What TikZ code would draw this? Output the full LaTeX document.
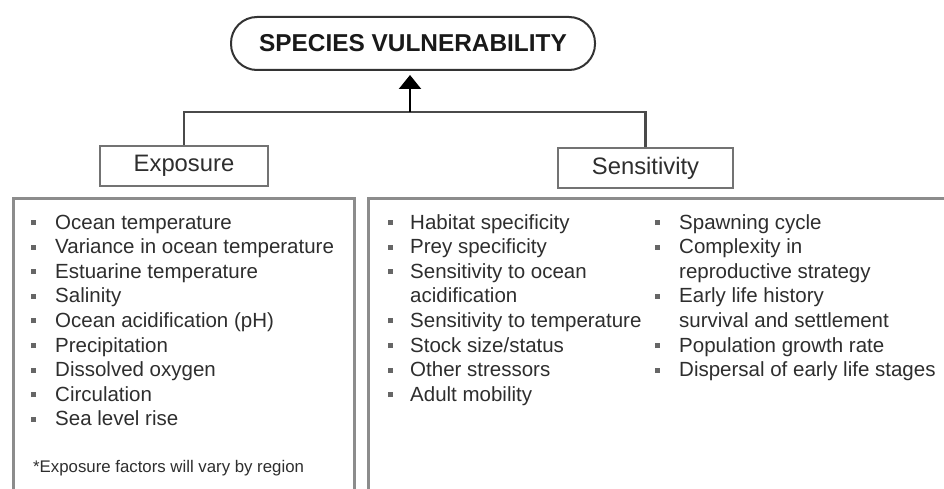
\documentclass[tikz,border=0pt]{standalone}
\usepackage{fontspec}
\setmainfont{Liberation Sans}
\usetikzlibrary{arrows.meta}
\definecolor{txt}{HTML}{2E2E2E}
\definecolor{framec}{HTML}{8C8C8C}
\definecolor{linec}{HTML}{4A4A4A}
\newcommand{\sqb}[1]{\makebox[#1][l]{\textcolor{black!60}{\raisebox{4pt}{\rule{5pt}{5pt}}}}}
\begin{document}
\begin{tikzpicture}[x=1pt,y=-1pt,
  pill/.style={draw=black!80, line width=2pt, rounded corners=26pt,
    minimum width=364pt, minimum height=53pt, inner sep=0pt,
    font=\fontsize{24.4}{28}\selectfont\bfseries, text=black!90},
  catbox/.style={draw=black!55, line width=1.8pt, minimum height=40pt,
    inner sep=0pt, font=\fontsize{23.8}{28}\selectfont, text=txt},
  bigbox/.style={draw=framec, line width=3pt, inner sep=0pt},
  listtxt/.style={inner sep=0pt, anchor=base west,
    font=\fontsize{20.5}{24.6}\selectfont, text=txt},
  conn/.style={draw=linec, line width=2.5pt},
  arr/.style={draw=black, line width=2.2pt, -{Triangle[width=22pt,length=14pt]}, shorten >=4pt}]
\useasboundingbox (0,0) rectangle (944,489);
\clip (0,0) rectangle (944,489);
\fill[white] (0,0) rectangle (944,489);

\node[pill] (title) at (413,43.5) {SPECIES VULNERABILITY};

\node[catbox, minimum width=168pt] (expo) at (184,166) {Exposure};
\node[catbox, minimum width=175pt] (sens) at (645.5,168) {Sensitivity};

\coordinate (j) at (410,112);
\draw[conn] (expo.north) |- (j) -| (sens.north);
\draw[arr] (j) -- (j |- title.south);

\node[bigbox, minimum width=341pt, minimum height=324pt] (ebox) at (183.5,360) {};
\node[bigbox, minimum width=582pt, minimum height=324pt] (sbox) at (659,360) {};

\node[listtxt] (elist) at (31,229) {\begin{tabular}[t]{@{}l@{}l@{}}
\sqb{24pt} & Ocean temperature\\
\sqb{24pt} & Variance in ocean temperature\\
\sqb{24pt} & Estuarine temperature\\
\sqb{24pt} & Salinity\\
\sqb{24pt} & Ocean acidification (pH)\\
\sqb{24pt} & Precipitation\\
\sqb{24pt} & Dissolved oxygen\\
\sqb{24pt} & Circulation\\
\sqb{24pt} & Sea level rise
\end{tabular}};

\node[inner sep=0pt, anchor=base west, font=\fontsize{16.8}{20}\selectfont, text=txt]
  (note) at (33,472) {*Exposure factors will vary by region};

\node[listtxt] (slist1) at (388,229) {\begin{tabular}[t]{@{}l@{}l@{}}
\sqb{22pt} & Habitat specificity\\
\sqb{22pt} & Prey specificity\\
\sqb{22pt} & Sensitivity to ocean\\
 & acidification\\
\sqb{22pt} & Sensitivity to temperature\\
\sqb{22pt} & Stock size/status\\
\sqb{22pt} & Other stressors\\
\sqb{22pt} & Adult mobility
\end{tabular}};

\node[listtxt] (slist2) at (655,229) {\begin{tabular}[t]{@{}l@{}l@{}}
\sqb{24pt} & Spawning cycle\\
\sqb{24pt} & Complexity in\\
 & reproductive strategy\\
\sqb{24pt} & Early life history\\
 & survival and settlement\\
\sqb{24pt} & Population growth rate\\
\sqb{24pt} & Dispersal of early life stages
\end{tabular}};
\end{tikzpicture}
\end{document}
